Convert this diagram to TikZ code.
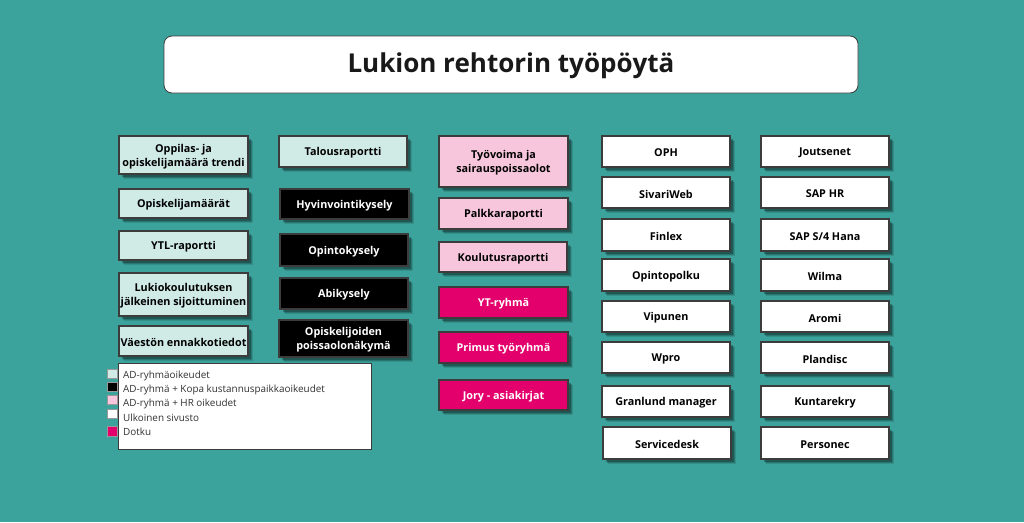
\documentclass[tikz,border=0pt]{standalone}
\usepackage{fontspec}
\setmainfont{Open Sans}
\usetikzlibrary{shadows}
\definecolor{bgteal}{RGB}{59,163,155}
\definecolor{lcyan}{RGB}{208,235,230}
\definecolor{lpink}{RGB}{247,198,220}
\definecolor{dotku}{RGB}{228,0,108}
\definecolor{bord}{RGB}{60,60,60}
\definecolor{legtext}{RGB}{50,50,50}
\tikzset{
  shad/.style={
    drop shadow={shadow xshift=4.5pt, shadow yshift=-4.5pt, opacity=0.12, fill=black},
    drop shadow={shadow xshift=3.5pt, shadow yshift=-3.5pt, opacity=0.18, fill=black},
    drop shadow={shadow xshift=2.5pt, shadow yshift=-2.5pt, opacity=0.25, fill=black}},
  box/.style={draw=bord, line width=1.6pt, inner sep=0pt, outer sep=0pt, shad},
  boxtext/.style={inner sep=0pt, align=center, font=\fontsize{10.8}{13.8}\selectfont\bfseries},
  cyanbox/.style={box, fill=lcyan},
  blackbox/.style={box, fill=black},
  pinkbox/.style={box, fill=lpink},
  dotkubox/.style={box, fill=dotku},
  whitebox/.style={box, fill=white},
  titlebox/.style={draw=bord, line width=0.8pt, fill=white, rounded corners=8pt, inner sep=0pt},
  titletext/.style={inner sep=0pt, font=\fontsize{26}{31}\selectfont\bfseries, text=black!90},
  legbox/.style={draw=bord, line width=0.8pt, fill=white, inner sep=0pt},
  legsq/.style={draw=black!40, line width=0.5pt, inner sep=0pt, minimum width=10pt, minimum height=9pt},
  legtxt/.style={anchor=west, inner sep=0pt, font=\fontsize{9.9}{11}\selectfont, text=legtext},
}
\newcommand\bx[8]{%
  \node[#6, minimum width={#4-#2}, minimum height={#5-#3}] (#1) at ({(#2+#4)/2},{(#3+#5)/2}) {};
  \node[boxtext, text=#7] (#1-t) at ([yshift=-1.5pt]#1.center) {#8};}
\begin{document}
\begin{tikzpicture}[x=1pt,y=-1pt]
\fill[bgteal] (0,0) rectangle (1024,522);
\useasboundingbox (0,0) rectangle (1024,522);

\node[titlebox, minimum width=694pt, minimum height=57pt] (title) at (511,64.5) {};
\node[titletext] (title-t) at ([yshift=-1.5pt]title.center) {Lukion rehtorin työpöytä};

% column 1
\bx{c1a}{119}{136}{248}{174}{cyanbox}{black}{Oppilas- ja\\opiskelijamäärä trendi}
\bx{c1b}{119}{189}{248}{218}{cyanbox}{black}{Opiskelijamäärät}
\bx{c1c}{119}{231}{248}{260}{cyanbox}{black}{YTL-raportti}
\bx{c1d}{119}{273}{248}{316}{cyanbox}{black}{Lukiokoulutuksen\\jälkeinen sijoittuminen}
\bx{c1e}{119}{326}{248}{356}{cyanbox}{black}{Väestön ennakkotiedot}

% column 2
\bx{c2a}{279}{136}{407}{167}{cyanbox}{black}{Talousraportti}
\bx{c2b}{280}{189}{409}{219}{blackbox}{white}{Hyvinvointikysely}
\bx{c2c}{280}{234}{408}{266}{blackbox}{white}{Opintokysely}
\bx{c2d}{280}{278}{408}{309}{blackbox}{white}{Abikysely}
\bx{c2e}{279}{320}{408}{357}{blackbox}{white}{Opiskelijoiden\\poissaolonäkymä}

% column 3
\bx{c3a}{439}{136}{568}{187}{pinkbox}{black}{Työvoima ja\\sairauspoissaolot}
\bx{c3b}{439}{198}{568}{229}{pinkbox}{black}{Palkkaraportti}
\bx{c3c}{439}{242}{567}{272}{pinkbox}{black}{Koulutusraportti}
\bx{c3d}{439}{287}{568}{318}{dotkubox}{white}{YT-ryhmä}
\bx{c3e}{439}{332}{568}{363}{dotkubox}{white}{Primus työryhmä}
\bx{c3f}{439}{380}{568}{410}{dotkubox}{white}{Jory - asiakirjat}

% column 4
\bx{c4a}{602}{136}{730}{167}{whitebox}{black}{OPH}
\bx{c4b}{602}{177}{730}{208}{whitebox}{black}{SivariWeb}
\bx{c4c}{602}{219}{730}{251}{whitebox}{black}{Finlex}
\bx{c4d}{602}{259}{730}{291}{whitebox}{black}{Opintopolku}
\bx{c4e}{602}{301}{730}{332}{whitebox}{black}{Vipunen}
\bx{c4f}{602}{342}{730}{373}{whitebox}{black}{Wpro}
\bx{c4g}{602}{386}{730}{417}{whitebox}{black}{Granlund manager}
\bx{c4h}{603}{427}{731}{459}{whitebox}{black}{Servicedesk}

% column 5
\bx{c5a}{761}{136}{889}{167}{whitebox}{black}{Joutsenet}
\bx{c5b}{761}{177}{889}{208}{whitebox}{black}{SAP HR}
\bx{c5c}{761}{219}{889}{251}{whitebox}{black}{SAP S/4 Hana}
\bx{c5d}{761}{259}{889}{291}{whitebox}{black}{Wilma}
\bx{c5e}{761}{301}{889}{332}{whitebox}{black}{Aromi}
\bx{c5f}{761}{342}{889}{373}{whitebox}{black}{Plandisc}
\bx{c5g}{761}{386}{889}{417}{whitebox}{black}{Kuntarekry}
\bx{c5h}{761}{427}{889}{459}{whitebox}{black}{Personec}

% legend
\node[legbox, minimum width=253pt, minimum height=86pt] (leg) at (244.5,406) {};
\node[legsq, fill=lcyan] (s1) at (112,373.5) {};
\node[legsq, fill=black] (s2) at (112,386.5) {};
\node[legsq, fill=lpink] (s3) at (112,400) {};
\node[legsq, fill=white] (s4) at (112,414) {};
\node[legsq, fill=dotku, minimum height=10pt] (s5) at (112,431) {};
\node[legtxt] (t1) at (123,376) {AD-ryhmäoikeudet};
\node[legtxt] (t2) at (123,390) {AD-ryhmä + Kopa kustannuspaikkaoikeudet};
\node[legtxt] (t3) at (123,403.5) {AD-ryhmä + HR oikeudet};
\node[legtxt] (t4) at (123,417.5) {Ulkoinen sivusto};
\node[legtxt] (t5) at (123,432) {Dotku};
\end{tikzpicture}
\end{document}
